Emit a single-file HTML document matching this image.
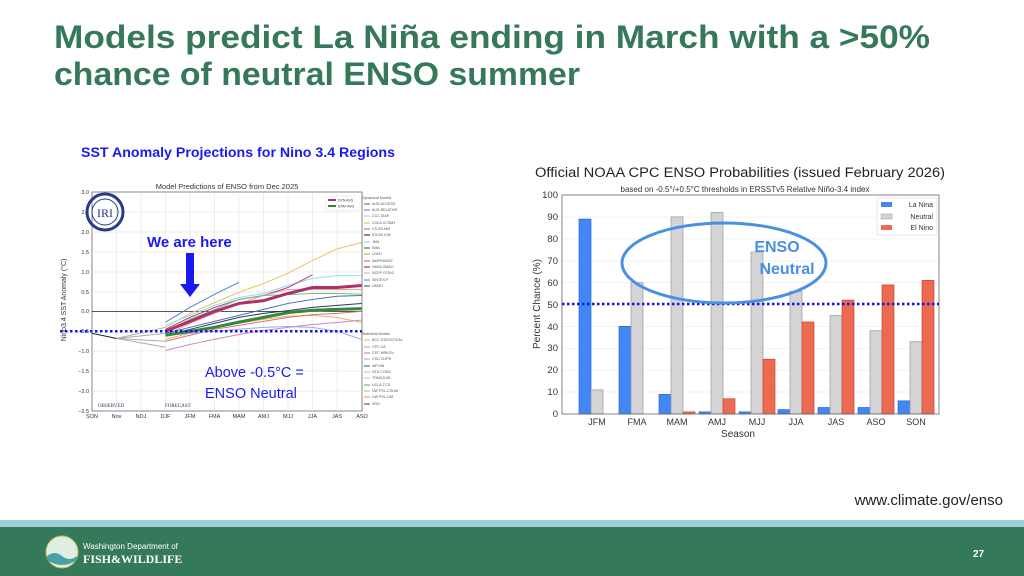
<!DOCTYPE html>
<html><head><meta charset="utf-8"><style>body{margin:0;background:#fff}svg{display:block}</style></head><body>
<svg width="1024" height="576" viewBox="0 0 1024 576" xmlns="http://www.w3.org/2000/svg" font-family="Liberation Sans, sans-serif">
<rect width="1024" height="576" fill="#fff"/>
<text x="54" y="48" font-size="32" font-weight="bold" fill="#35795a" textLength="876" lengthAdjust="spacingAndGlyphs">Models predict La Niña ending in March with a &gt;50%</text>
<text x="54" y="85" font-size="32" font-weight="bold" fill="#35795a" textLength="526" lengthAdjust="spacingAndGlyphs">chance of neutral ENSO summer</text>

<!-- LEFT CHART -->
<text x="81" y="157" font-size="13.5" font-weight="bold" fill="#1a1aee" textLength="314" lengthAdjust="spacingAndGlyphs">SST Anomaly Projections for Nino 3.4 Regions</text>
<text x="227" y="189" font-size="7.5" fill="#333" text-anchor="middle">Model Predictions of ENSO from Dec 2025</text>
<rect x="92" y="192" width="270" height="219" fill="none" stroke="#555" stroke-width="0.7"/>
<g stroke="#ddd" stroke-width="0.5">
<line x1="116.5" y1="192" x2="116.5" y2="411"/><line x1="141" y1="192" x2="141" y2="411"/><line x1="165.5" y1="192" x2="165.5" y2="411"/><line x1="190" y1="192" x2="190" y2="411"/><line x1="214.5" y1="192" x2="214.5" y2="411"/><line x1="239" y1="192" x2="239" y2="411"/><line x1="263.5" y1="192" x2="263.5" y2="411"/><line x1="288" y1="192" x2="288" y2="411"/><line x1="312.5" y1="192" x2="312.5" y2="411"/><line x1="337" y1="192" x2="337" y2="411"/>
<line x1="92" y1="212" x2="362" y2="212"/><line x1="92" y1="232" x2="362" y2="232"/><line x1="92" y1="252" x2="362" y2="252"/><line x1="92" y1="272" x2="362" y2="272"/><line x1="92" y1="292" x2="362" y2="292"/><line x1="92" y1="351" x2="362" y2="351"/><line x1="92" y1="371" x2="362" y2="371"/><line x1="92" y1="391" x2="362" y2="391"/>
</g>
<g font-size="5.5" fill="#333" text-anchor="end">
<text x="89" y="194">3.0</text><text x="89" y="214">2.5</text><text x="89" y="234">2.0</text><text x="89" y="254">1.5</text><text x="89" y="274">1.0</text><text x="89" y="294">0.5</text><text x="89" y="313">0.0</text><text x="89" y="333">−0.5</text><text x="89" y="353">−1.0</text><text x="89" y="373">−1.5</text><text x="89" y="393">−2.0</text><text x="89" y="413">−2.5</text>
</g>
<g font-size="5.5" fill="#333" text-anchor="middle">
<text x="92" y="418">SON</text><text x="116.5" y="418">Nov</text><text x="141" y="418">NDJ</text><text x="165.5" y="418">DJF</text><text x="190" y="418">JFM</text><text x="214.5" y="418">FMA</text><text x="239" y="418">MAM</text><text x="263.5" y="418">AMJ</text><text x="288" y="418">MJJ</text><text x="312.5" y="418">JJA</text><text x="337" y="418">JAS</text><text x="362" y="418">ASO</text>
</g>
<text x="66" y="300" font-size="7" fill="#333" text-anchor="middle" transform="rotate(-90 66 300)">Nino3.4 SST Anomaly (°C)</text>
<text x="98" y="407" font-size="5" fill="#336" font-family="Liberation Serif, serif">OBSERVED</text>
<text x="165" y="407" font-size="5" fill="#336" font-family="Liberation Serif, serif">FORECAST</text>
<line x1="92" y1="311.4" x2="362" y2="311.4" stroke="#222" stroke-width="0.8"/>
<g transform="translate(92,311.4) scale(24.5,-39.8)" fill="none" stroke-width="1" >
<polyline vector-effect="non-scaling-stroke" stroke="#aaa" points="1,-0.68 3,-0.9"/>
<polyline vector-effect="non-scaling-stroke" stroke="#aaa" points="1,-0.68 3,-0.4"/>
<polyline vector-effect="non-scaling-stroke" stroke="#aaa" points="1,-0.68 3,-0.55"/>
<polyline vector-effect="non-scaling-stroke" stroke="#aaa" points="1,-0.68 3,-0.75"/>
<polyline vector-effect="non-scaling-stroke" stroke="#222" points="0,-0.55 1,-0.68"/>
<polyline vector-effect="non-scaling-stroke" stroke="#e3c65a" points="3,-0.4 4,-0.05 5,0.22 6,0.48 7,0.7 8,0.96 9,1.28 10,1.57 11,1.73"/>
<polyline vector-effect="non-scaling-stroke" stroke="#5a7fbf" points="3,-0.27 4,0.1 5,0.43 6,0.73"/>
<polyline vector-effect="non-scaling-stroke" stroke="#8fdcf0" points="3,-0.35 4,-0.1 5,0.15 6,0.35 7,0.45 8,0.65 9,0.83 10,0.9 11,0.9"/>
<polyline vector-effect="non-scaling-stroke" stroke="#b04080" points="3,-0.45 4,-0.15 5,0.1 6,0.3 7,0.4 8,0.6 9,0.92"/>
<polyline vector-effect="non-scaling-stroke" stroke="#e8a0a0" points="3,-0.6 4,-0.3 5,-0.05 6,0.2 7,0.4 8,0.55 9,0.55 10,0.55 11,0.55"/>
<polyline vector-effect="non-scaling-stroke" stroke="#6fbf7f" points="3,-0.5 4,-0.2 5,0.05 6,0.3 7,0.4 8,0.42 9,0.45 10,0.45 11,0.43"/>
<polyline vector-effect="non-scaling-stroke" stroke="#4a70b0" points="3,-0.55 4,-0.4 5,-0.25 6,-0.1 7,0.05 8,0.2 9,0.3 10,0.38 11,0.4"/>
<polyline vector-effect="non-scaling-stroke" stroke="#336" points="3,-0.6 4,-0.45 5,-0.3 6,-0.15 7,-0.05 8,0.02 9,0.1 10,0.15 11,0.2"/>
<polyline vector-effect="non-scaling-stroke" stroke="#e8b070" points="3,-0.7 4,-0.55 5,-0.4 6,-0.3 7,-0.2 8,-0.12 9,-0.1 10,-0.15 11,-0.28"/>
<polyline vector-effect="non-scaling-stroke" stroke="#e07070" points="3,-0.75 4,-0.6 5,-0.45 6,-0.35 7,-0.25 8,-0.15 9,-0.08 10,-0.05 11,0"/>
<polyline vector-effect="non-scaling-stroke" stroke="#cc88bb" points="3,-0.98 4,-0.83 5,-0.7 6,-0.58 7,-0.48 8,-0.4 9,-0.33 10,-0.28 11,-0.22"/>
<polyline vector-effect="non-scaling-stroke" stroke="#9ad" points="3,-0.6 4,-0.55 5,-0.5 6,-0.45 7,-0.4 8,-0.38 9,-0.4 10,-0.5 11,-0.7"/>
<polyline vector-effect="non-scaling-stroke" stroke="#2e8b3a" stroke-width="3" points="3,-0.6 4,-0.5 5,-0.4 6,-0.27 7,-0.15 8,-0.03 9,0.03 10,0.05 11,0.07"/>
<polyline vector-effect="non-scaling-stroke" stroke="#b0306a" stroke-width="3" points="3,-0.5 4,-0.25 5,0 6,0.2 7,0.27 8,0.45 9,0.6 10,0.6 11,0.65"/>
</g>
<line x1="60" y1="331.3" x2="362" y2="331.3" stroke="#1515e0" stroke-width="2.5" stroke-dasharray="2.5 2.5"/>
<circle cx="105" cy="212" r="18" fill="none" stroke="#2a3a8a" stroke-width="3"/>
<circle cx="105" cy="212" r="13" fill="none" stroke="#2a3a8a" stroke-width="1"/>
<text x="105" y="217" font-size="12" fill="#2a3a8a" text-anchor="middle" font-family="Liberation Serif, serif">IRI</text>
<rect x="326" y="196" width="34" height="14" fill="#fff" stroke="#ccc" stroke-width="0.3"/>
<line x1="328" y1="200" x2="336" y2="200" stroke="#b0306a" stroke-width="2"/><text x="338" y="201.5" font-size="3.5" fill="#333">DYN AVG</text>
<line x1="328" y1="206" x2="336" y2="206" stroke="#2e8b3a" stroke-width="2"/><text x="338" y="207.5" font-size="3.5" fill="#333">STAT AVG</text>
<g font-size="3.6" fill="#555">
<text x="362" y="199">Dynamical Models</text>
<text x="372" y="205">AUS-ACCESS</text><text x="372" y="211">AUS-RELATIVE</text><text x="372" y="217">CCC DIAP</text><text x="372" y="224">COLA CCSM4</text><text x="372" y="230">CS-IRI-MM</text><text x="372" y="236">IOCAS ICM</text><text x="372" y="243">JMA</text><text x="372" y="249">KMA</text><text x="372" y="255">LDEO</text><text x="372" y="262">MetFRANCE</text><text x="372" y="268">NASA GMAO</text><text x="372" y="274">NCEP CFSv2</text><text x="372" y="281">SINTEX-F</text><text x="372" y="287">UKMO</text>
<text x="362" y="335">Statistical Models</text>
<text x="372" y="341">BCC STATISTICAL</text><text x="372" y="348">CPC CA</text><text x="372" y="354">CPC MRKOV</text><text x="372" y="360">CSU CLIPR</text><text x="372" y="367">IAP-NN</text><text x="372" y="373">NTU CODA</text><text x="372" y="379">TONGJI-ML</text><text x="372" y="386">UCLA-TCD</text><text x="372" y="392">UW PSL-CSLIM</text><text x="372" y="398">UW PSL-LIM</text><text x="372" y="405">XRO</text>
</g>
<g stroke-width="1.2">
<line x1="364" y1="204" x2="370" y2="204" stroke="#5a7fbf"/><line x1="364" y1="210" x2="370" y2="210" stroke="#7a8fc0"/><line x1="364" y1="216" x2="370" y2="216" stroke="#8fdcf0"/><line x1="364" y1="223" x2="370" y2="223" stroke="#e3c65a"/><line x1="364" y1="229" x2="370" y2="229" stroke="#e07070"/><line x1="364" y1="235" x2="370" y2="235" stroke="#336"/><line x1="364" y1="242" x2="370" y2="242" stroke="#8fdcf0"/><line x1="364" y1="248" x2="370" y2="248" stroke="#2e8b3a"/><line x1="364" y1="254" x2="370" y2="254" stroke="#c8b040"/><line x1="364" y1="261" x2="370" y2="261" stroke="#e07070"/><line x1="364" y1="267" x2="370" y2="267" stroke="#b0306a"/><line x1="364" y1="273" x2="370" y2="273" stroke="#bbb"/><line x1="364" y1="280" x2="370" y2="280" stroke="#5ac"/><line x1="364" y1="286" x2="370" y2="286" stroke="#2e8b3a"/>
<line x1="364" y1="340" x2="370" y2="340" stroke="#e3c65a"/><line x1="364" y1="347" x2="370" y2="347" stroke="#e8a0a0"/><line x1="364" y1="353" x2="370" y2="353" stroke="#cc88bb"/><line x1="364" y1="359" x2="370" y2="359" stroke="#bbb"/><line x1="364" y1="366" x2="370" y2="366" stroke="#4a70b0"/><line x1="364" y1="372" x2="370" y2="372" stroke="#8fdcf0"/><line x1="364" y1="378" x2="370" y2="378" stroke="#ccc"/><line x1="364" y1="385" x2="370" y2="385" stroke="#6fbf7f"/><line x1="364" y1="391" x2="370" y2="391" stroke="#e8b070"/><line x1="364" y1="397" x2="370" y2="397" stroke="#e8a0a0"/><line x1="364" y1="404" x2="370" y2="404" stroke="#b04080"/>
</g>
<text x="147" y="247" font-size="15" font-weight="bold" fill="#1a1aee">We are here</text>
<rect x="186" y="253" width="8" height="32" fill="#1a1aee"/>
<polygon points="180,284 200,284 190,297" fill="#1a1aee"/>
<text x="205" y="377" font-size="14.5" fill="#1a1aee">Above -0.5°C =</text>
<text x="205" y="398" font-size="14.5" fill="#1a1aee">ENSO Neutral</text>

<!-- RIGHT CHART -->
<text x="740" y="177" font-size="13.5" fill="#222" text-anchor="middle" textLength="410" lengthAdjust="spacingAndGlyphs">Official NOAA CPC ENSO Probabilities (issued February 2026)</text>
<text x="745" y="192" font-size="8" fill="#333" text-anchor="middle">based on -0.5°/+0.5°C thresholds in ERSSTv5 Relative Niño-3.4 index</text>
<g stroke="#eee" stroke-width="0.7">
<line x1="562" y1="217" x2="939" y2="217"/><line x1="562" y1="239" x2="939" y2="239"/><line x1="562" y1="261" x2="939" y2="261"/><line x1="562" y1="282.6" x2="939" y2="282.6"/><line x1="562" y1="326.4" x2="939" y2="326.4"/><line x1="562" y1="348.3" x2="939" y2="348.3"/><line x1="562" y1="370.2" x2="939" y2="370.2"/><line x1="562" y1="392" x2="939" y2="392"/>
</g>
<g transform="translate(0,414) scale(1,-2.19)" stroke-width="0.7">
<g fill="#4287f5" stroke="#2a6ad0">
<rect vector-effect="non-scaling-stroke" x="579" y="0" width="12" height="89"/>
<rect vector-effect="non-scaling-stroke" x="619" y="0" width="12" height="40"/>
<rect vector-effect="non-scaling-stroke" x="659" y="0" width="12" height="9"/>
<rect vector-effect="non-scaling-stroke" x="699" y="0" width="12" height="1"/>
<rect vector-effect="non-scaling-stroke" x="739" y="0" width="12" height="1"/>
<rect vector-effect="non-scaling-stroke" x="778" y="0" width="12" height="2"/>
<rect vector-effect="non-scaling-stroke" x="818" y="0" width="12" height="3"/>
<rect vector-effect="non-scaling-stroke" x="858" y="0" width="12" height="3"/>
<rect vector-effect="non-scaling-stroke" x="898" y="0" width="12" height="6"/>
</g>
<g fill="#d4d4d6" stroke="#999">
<rect vector-effect="non-scaling-stroke" x="591" y="0" width="12" height="11"/>
<rect vector-effect="non-scaling-stroke" x="631" y="0" width="12" height="60"/>
<rect vector-effect="non-scaling-stroke" x="671" y="0" width="12" height="90"/>
<rect vector-effect="non-scaling-stroke" x="711" y="0" width="12" height="92"/>
<rect vector-effect="non-scaling-stroke" x="751" y="0" width="12" height="74"/>
<rect vector-effect="non-scaling-stroke" x="790" y="0" width="12" height="56"/>
<rect vector-effect="non-scaling-stroke" x="830" y="0" width="12" height="45"/>
<rect vector-effect="non-scaling-stroke" x="870" y="0" width="12" height="38"/>
<rect vector-effect="non-scaling-stroke" x="910" y="0" width="12" height="33"/>
</g>
<g fill="#eb6a50" stroke="#c84a35">
<rect vector-effect="non-scaling-stroke" x="683" y="0" width="12" height="1"/>
<rect vector-effect="non-scaling-stroke" x="723" y="0" width="12" height="7"/>
<rect vector-effect="non-scaling-stroke" x="763" y="0" width="12" height="25"/>
<rect vector-effect="non-scaling-stroke" x="802" y="0" width="12" height="42"/>
<rect vector-effect="non-scaling-stroke" x="842" y="0" width="12" height="52"/>
<rect vector-effect="non-scaling-stroke" x="882" y="0" width="12" height="59"/>
<rect vector-effect="non-scaling-stroke" x="922" y="0" width="12" height="61"/>
</g>
</g>
<rect x="562" y="195" width="377" height="219" fill="none" stroke="#666" stroke-width="0.8"/>
<g font-size="9.5" fill="#333" text-anchor="end">
<text x="558" y="198">100</text><text x="558" y="220">90</text><text x="558" y="242">80</text><text x="558" y="264">70</text><text x="558" y="286">60</text><text x="558" y="308">50</text><text x="558" y="330">40</text><text x="558" y="351">30</text><text x="558" y="373">20</text><text x="558" y="395">10</text><text x="558" y="417">0</text>
</g>
<g font-size="9" fill="#333" text-anchor="middle">
<text x="597" y="425">JFM</text><text x="637" y="425">FMA</text><text x="677" y="425">MAM</text><text x="717" y="425">AMJ</text><text x="757" y="425">MJJ</text><text x="796" y="425">JJA</text><text x="836" y="425">JAS</text><text x="876" y="425">ASO</text><text x="916" y="425">SON</text>
</g>
<text x="738" y="437" font-size="10" fill="#333" text-anchor="middle">Season</text>
<text x="540" y="304" font-size="10" fill="#333" text-anchor="middle" transform="rotate(-90 540 304)">Percent Chance (%)</text>
<rect x="877" y="198" width="60" height="37" fill="#fff" stroke="#ddd" stroke-width="0.7"/>
<rect x="881" y="202" width="11" height="5" fill="#4287f5"/><text x="933" y="207" font-size="7" fill="#333" text-anchor="end">La Nina</text>
<rect x="881" y="214" width="11" height="5" fill="#d4d4d6" stroke="#999" stroke-width="0.5"/><text x="933" y="219" font-size="7" fill="#333" text-anchor="end">Neutral</text>
<rect x="881" y="225" width="11" height="5" fill="#eb6a50"/><text x="933" y="230" font-size="7" fill="#333" text-anchor="end">El Nino</text>
<line x1="562" y1="304" x2="939" y2="304" stroke="#1515e0" stroke-width="2.5" stroke-dasharray="2.5 2.5"/>
<ellipse cx="724" cy="263" rx="102" ry="40" fill="none" stroke="#4a90e2" stroke-width="3"/>
<text x="777" y="252" font-size="16" font-weight="bold" fill="#4a90e2" text-anchor="middle">ENSO</text>
<text x="787" y="274" font-size="16" font-weight="bold" fill="#4a90e2" text-anchor="middle">Neutral</text>

<text x="1003" y="505" font-size="15" fill="#222" text-anchor="end">www.climate.gov/enso</text>

<rect x="0" y="520" width="1024" height="8" fill="#9ecfd6"/>
<rect x="0" y="527" width="1024" height="49" fill="#357a58"/>
<circle cx="62" cy="552" r="16" fill="#dfeee0" stroke="#c9b45a" stroke-width="1"/>
<path d="M47,556 Q55,550 62,556 T77,556 L77,560 Q62,570 47,560 Z" fill="#4aa0a8"/>
<text x="83" y="549" font-size="8" fill="#fff">Washington Department of</text>
<text x="83" y="563" font-size="12" font-weight="bold" fill="#fff" font-family="Liberation Serif, serif">FISH&amp;WILDLIFE</text>
<text x="973" y="557" font-size="10" font-weight="bold" fill="#fff">27</text>
</svg>
</body></html>
